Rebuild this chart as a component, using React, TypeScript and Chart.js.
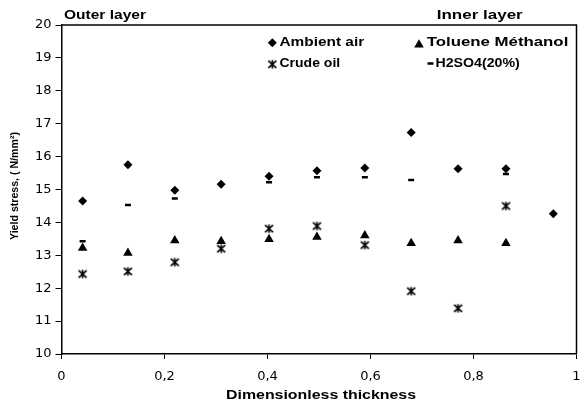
import React, { useEffect, useRef } from 'react';
import { Chart, registerables } from 'chart.js';
import { drawPoint } from 'chart.js/helpers';

Chart.register(...registerables);

// ---- data ----
const thickness = [0.041, 0.129, 0.22, 0.31, 0.403, 0.496, 0.589, 0.679, 0.77, 0.863, 0.955];
const ambientAir = [14.65, 15.75, 14.98, 15.16, 15.4, 15.57, 15.65, 16.73, 15.63, 15.63, 14.26];
const tolueneMethanol = [13.22, 13.07, 13.45, 13.43, 13.49, 13.56, 13.6, 13.37, 13.45, 13.37, null];
const crudeOil = [12.43, 12.51, 12.79, 13.2, 13.81, 13.89, 13.31, 11.91, 11.39, 14.5, null];
const h2so4 = [13.43, 14.53, 14.73, null, 15.22, 15.37, 15.37, 15.29, null, 15.47, null];
const seriesLabels = ['Ambient air', 'Toluene Méthanol', 'Crude oil', 'H2SO4(20%)'];
const xTickValues = [0, 0.2, 0.4, 0.6, 0.8, 1];
const xTickLabels = ['0', '0,2', '0,4', '0,6', '0,8', '1'];
const yTickValues = [10, 11, 12, 13, 14, 15, 16, 17, 18, 19, 20];
const yTickLabels = ['10', '11', '12', '13', '14', '15', '16', '17', '18', '19', '20'];
const xTitle = 'Dimensionless thickness';
const yTitle = 'Yield stress, ( N/mm²)';
const leftNote = 'Outer layer';
const rightNote = 'Inner layer';

const pts = (arr: (number | null)[]) =>
  thickness.map((x, i) => ({ x, y: arr[i] })).filter((p) => p.y !== null) as { x: number; y: number }[];

const SANS = '"Liberation Sans", Arial, sans-serif';

function makeStar(): HTMLCanvasElement {
  const c = document.createElement('canvas');
  c.width = 11;
  c.height = 11;
  const g = c.getContext('2d')!;
  g.strokeStyle = '#000';
  g.lineWidth = 1.6;
  g.beginPath();
  g.moveTo(1.5, 1.8);
  g.lineTo(9.5, 9.2);
  g.moveTo(9.5, 1.8);
  g.lineTo(1.5, 9.2);
  g.moveTo(5.5, 1.2);
  g.lineTo(5.5, 9.8);
  g.stroke();
  return c;
}

function fitText(
  ctx: CanvasRenderingContext2D,
  text: string,
  x: number,
  y: number,
  font: string,
  width: number,
  align: 'left' | 'center',
  rotation = 0
) {
  ctx.save();
  ctx.font = font;
  const w = ctx.measureText(text).width;
  const sx = width / w;
  ctx.translate(x, y);
  if (rotation) ctx.rotate(rotation);
  ctx.scale(sx, 1);
  ctx.textAlign = align;
  ctx.textBaseline = 'alphabetic';
  ctx.fillStyle = '#000';
  ctx.fillText(text, 0, 0);
  ctx.restore();
}

export default function App() {
  const ref = useRef<HTMLCanvasElement>(null);

  useEffect(() => {
    const canvas = ref.current!;
    const star = makeStar();

    const decor = {
      id: 'decor',
      afterDraw(chart: any) {
        const ctx: CanvasRenderingContext2D = chart.ctx;
        const a = chart.chartArea;
        ctx.save();
        ctx.strokeStyle = '#000';
        ctx.lineWidth = 1.5;
        ctx.beginPath();
        ctx.moveTo(a.left, a.top);
        ctx.lineTo(a.right, a.top);
        ctx.lineTo(a.right, a.bottom);
        ctx.stroke();
        ctx.restore();

        const bold12 = `bold 12px ${SANS}`;
        fitText(ctx, leftNote, 64, 18.5, bold12, 82, 'left');
        fitText(ctx, rightNote, 436.7, 18.5, bold12, 86, 'left');
        fitText(ctx, xTitle, 321, 399.3, bold12, 190, 'center');

        // legend
        const items = [
          { label: seriesLabels[0], style: 'rectRot', r: 4.5, mx: 272.3, my: 42.7, tx: 279.5, ty: 45.5, w: 84.7, lw: 0 },
          { label: seriesLabels[1], style: 'triangle', r: 5.5, mx: 419, my: 44.7, tx: 426.7, ty: 45.5, w: 141.6, lw: 0 },
          { label: seriesLabels[2], style: star, r: 5, mx: 272.3, my: 64.3, tx: 279.5, ty: 67, w: 60.7, lw: 0 },
          { label: seriesLabels[3], style: 'line', r: 3, mx: 430.5, my: 63.5, tx: 435.5, ty: 67, w: 84.3, lw: 2.5 },
        ];
        for (const it of items) {
          ctx.save();
          ctx.fillStyle = '#000';
          ctx.strokeStyle = '#000';
          ctx.lineWidth = it.lw;
          drawPoint(ctx, { pointStyle: it.style as any, radius: it.r, borderWidth: it.lw, rotation: 0 } as any, it.mx, it.my);
          ctx.restore();
          fitText(ctx, it.label, it.tx, it.ty, bold12, it.w, 'left');
        }

        // y title (rotated)
        fitText(ctx, yTitle, 17.5, 186, `bold 11px ${SANS}`, 108, 'center', -Math.PI / 2);
      },
    };

    const tickFont = { family: '"DejaVu Sans", sans-serif', size: 13 };

    const chart = new Chart(canvas, {
      type: 'scatter',
      data: {
        datasets: [
          {
            label: seriesLabels[0],
            data: pts(ambientAir),
            pointStyle: 'rectRot',
            pointRadius: 4.5,
            pointHoverRadius: 4.5,
            backgroundColor: '#000',
            borderColor: '#000',
            borderWidth: 0,
          },
          {
            label: seriesLabels[1],
            data: pts(tolueneMethanol),
            pointStyle: 'triangle',
            pointRadius: 5.5,
            pointHoverRadius: 5.5,
            backgroundColor: '#000',
            borderColor: '#000',
            borderWidth: 0,
          },
          {
            label: seriesLabels[2],
            data: pts(crudeOil),
            pointStyle: star as any,
            pointRadius: 5,
            pointHoverRadius: 5,
            backgroundColor: '#000',
            borderColor: '#000',
            borderWidth: 0,
          },
          {
            label: seriesLabels[3],
            data: pts(h2so4),
            pointStyle: 'line',
            pointRadius: 3,
            pointHoverRadius: 3,
            backgroundColor: '#000',
            borderColor: '#000',
            borderWidth: 2.5,
          },
        ],
      },
      options: {
        responsive: false,
        animation: false,
        devicePixelRatio: 1,
        events: [],
        layout: { padding: { top: 25, right: 1, left: 0, bottom: 0 } },
        plugins: {
          legend: { display: false },
          tooltip: { enabled: false },
          title: { display: false },
        },
        scales: {
          x: {
            type: 'linear',
            min: 0,
            max: 1,
            afterBuildTicks: (s: any) => {
              s.ticks = xTickValues.map((value) => ({ value }));
            },
            ticks: {
              callback: (_v: any, i: number) => xTickLabels[i],
              font: tickFont,
              color: '#000',
              padding: 10,
              maxRotation: 0,
              autoSkip: false,
            },
            grid: { drawOnChartArea: false, drawTicks: true, tickLength: 5, color: '#000', lineWidth: 1 },
            border: { display: true, color: '#000', width: 1.5 },
            afterFit: (s: any) => {
              s.height = 49;
              s.paddingRight = 0;
              s.paddingLeft = 0;
            },
          },
          y: {
            type: 'linear',
            min: 10,
            max: 20,
            afterBuildTicks: (s: any) => {
              s.ticks = yTickValues.map((value) => ({ value }));
            },
            ticks: {
              callback: (_v: any, i: number) => yTickLabels[i],
              font: tickFont,
              color: '#000',
              padding: 4,
              autoSkip: false,
            },
            grid: { drawOnChartArea: false, drawTicks: true, tickLength: 6, color: '#000', lineWidth: 1 },
            border: { display: true, color: '#000', width: 1.5 },
            afterFit: (s: any) => {
              s.width = 61.5;
              s.paddingTop = 0;
              s.paddingBottom = 0;
            },
          },
        },
      },
      plugins: [decor],
    } as any);

    return () => chart.destroy();
  }, []);

  return (
    <div style={{ position: 'absolute', left: 0, top: 0, width: 582, height: 403, background: '#fff' }}>
      <canvas ref={ref} width={582} height={403} style={{ display: 'block', width: 582, height: 403 }} />
    </div>
  );
}
